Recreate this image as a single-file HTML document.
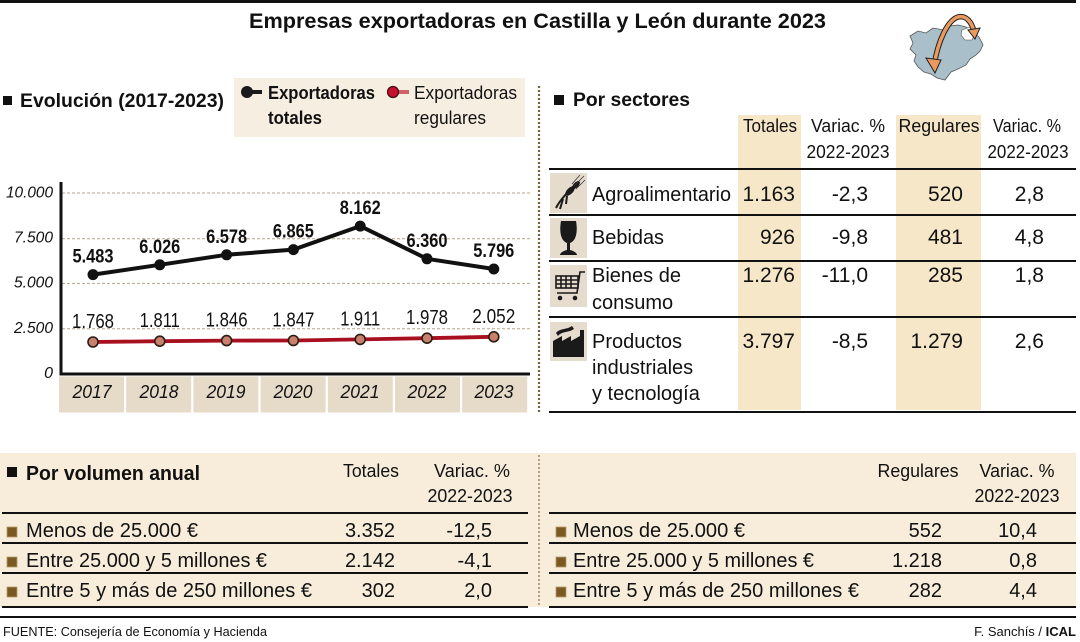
<!DOCTYPE html>
<html><head><meta charset="utf-8"><style>
html,body{margin:0;padding:0;background:#fff;}
svg{display:block;}
text{font-family:"Liberation Sans",Arial,sans-serif;fill:#111;}
.b{font-weight:bold;}
.i{font-style:italic;}
</style></head><body>
<svg width="1080" height="642" viewBox="0 0 1080 642" xmlns="http://www.w3.org/2000/svg">
<rect x="0" y="0" width="1080" height="642" fill="#fff"/>
<!-- top rule -->
<rect x="0" y="0" width="1076" height="3" fill="#111"/>
<text x="249" y="28" class="b" font-size="21" textLength="577" lengthAdjust="spacingAndGlyphs">Empresas exportadoras en Castilla y León durante 2023</text>

<!-- map icon -->
<g>
<path d="M910,36 L918,31 L926,33 L933,28 L944,30 L950,26 L958,25 L966,27 L972,31 L979,37 L983,45 L980,51 L976,55 L970,59 L966,65 L958,69 L951,72 L945,80 L937,78 L931,74 L924,72 L918,67 L914,61 L916,55 L910,49 L913,43 Z" fill="#a9bfca" stroke="#555" stroke-width="0.8"/>
<path d="M962,30 L970,27 L975,33 L972,40 L965,40 L961,35 Z" fill="#fff" stroke="#555" stroke-width="0.6"/>
<path d="M934,66 C938,40 948,20 958,17 C966,15 972,22 974,32" fill="none" stroke="#222" stroke-width="5.5"/>
<path d="M934,66 C938,40 948,20 958,17 C966,15 972,22 974,32" fill="none" stroke="#eb9a5f" stroke-width="3.5"/>
<path d="M926,58 L935,73 L941,60 Z" fill="#eb9a5f" stroke="#222" stroke-width="1"/>
<path d="M968,30 L975,39 L980,28 Z" fill="#eb9a5f" stroke="#222" stroke-width="1"/>
</g>

<!-- Evolución header -->
<rect x="3" y="96" width="9" height="9" fill="#111"/>
<text x="20" y="107" class="b" font-size="19" textLength="204" lengthAdjust="spacingAndGlyphs">Evolución (2017-2023)</text>

<!-- legend -->
<rect x="234" y="78" width="291" height="59" fill="#f7eee2"/>
<line x1="247" y1="92" x2="262" y2="92" stroke="#1a1a1a" stroke-width="4"/>
<circle cx="247" cy="92" r="6" fill="#1a1a1a"/>
<text x="268" y="99" class="b" font-size="18" textLength="107" lengthAdjust="spacingAndGlyphs">Exportadoras</text>
<text x="268" y="124" class="b" font-size="18" textLength="54" lengthAdjust="spacingAndGlyphs">totales</text>
<line x1="393" y1="92" x2="409" y2="92" stroke="#d0606a" stroke-width="4"/>
<circle cx="393" cy="92" r="5.5" fill="#c8102e" stroke="#3a1010" stroke-width="1.2"/>
<text x="414" y="99" font-size="18" textLength="103" lengthAdjust="spacingAndGlyphs">Exportadoras</text>
<text x="414" y="124" font-size="18" textLength="72" lengthAdjust="spacingAndGlyphs">regulares</text>

<!-- grid -->
<g stroke="#b5a58c" stroke-width="1" stroke-dasharray="3,2">
<line x1="62" y1="193" x2="530" y2="193"/>
<line x1="62" y1="238.7" x2="530" y2="238.7"/>
<line x1="62" y1="283.4" x2="530" y2="283.4"/>
<line x1="62" y1="328.7" x2="530" y2="328.7"/>
</g>
<g class="i" font-size="16">
<text x="53" y="197.5" text-anchor="end" class="i" textLength="47" lengthAdjust="spacingAndGlyphs">10.000</text>
<text x="53" y="242.5" text-anchor="end" class="i" textLength="39" lengthAdjust="spacingAndGlyphs">7.500</text>
<text x="53" y="287.5" text-anchor="end" class="i" textLength="39" lengthAdjust="spacingAndGlyphs">5.000</text>
<text x="53" y="333" text-anchor="end" class="i" textLength="39" lengthAdjust="spacingAndGlyphs">2.500</text>
<text x="53" y="378" text-anchor="end" class="i">0</text>
</g>
<!-- axes -->
<line x1="61" y1="182" x2="61" y2="375.5" stroke="#111" stroke-width="3"/>
<line x1="59.5" y1="374" x2="530" y2="374" stroke="#111" stroke-width="3"/>
<!-- year boxes -->
<g fill="#e6dac8">
<rect x="59" y="376.5" width="65" height="36"/>
<rect x="126.2" y="376.5" width="65" height="36"/>
<rect x="193.4" y="376.5" width="65" height="36"/>
<rect x="260.6" y="376.5" width="65" height="36"/>
<rect x="327.8" y="376.5" width="65" height="36"/>
<rect x="395" y="376.5" width="65" height="36"/>
<rect x="462.2" y="376.5" width="65" height="36"/>
</g>
<g font-size="18" text-anchor="middle">
<text x="92" y="398" class="i" textLength="39" lengthAdjust="spacingAndGlyphs">2017</text>
<text x="159" y="398" class="i" textLength="39" lengthAdjust="spacingAndGlyphs">2018</text>
<text x="226" y="398" class="i" textLength="39" lengthAdjust="spacingAndGlyphs">2019</text>
<text x="293" y="398" class="i" textLength="39" lengthAdjust="spacingAndGlyphs">2020</text>
<text x="360" y="398" class="i" textLength="39" lengthAdjust="spacingAndGlyphs">2021</text>
<text x="427" y="398" class="i" textLength="39" lengthAdjust="spacingAndGlyphs">2022</text>
<text x="494" y="398" class="i" textLength="39" lengthAdjust="spacingAndGlyphs">2023</text>
</g>

<!-- series totals -->
<polyline points="93,274.6 159.8,264.8 226.6,254.8 293.4,249.6 360.2,226.1 427,258.8 493.8,269" fill="none" stroke="#111" stroke-width="4" stroke-linejoin="round"/>
<g fill="#111">
<circle cx="93" cy="274.6" r="5.5"/><circle cx="159.8" cy="264.8" r="5.5"/><circle cx="226.6" cy="254.8" r="5.5"/>
<circle cx="293.4" cy="249.6" r="5.5"/><circle cx="360.2" cy="226.1" r="5.5"/><circle cx="427" cy="258.8" r="5.5"/><circle cx="493.8" cy="269" r="5.5"/>
</g>
<g class="b" font-size="19" text-anchor="middle">
<text x="93" y="262.6" class="b" textLength="41" lengthAdjust="spacingAndGlyphs">5.483</text>
<text x="159.8" y="252.8" class="b" textLength="41" lengthAdjust="spacingAndGlyphs">6.026</text>
<text x="226.6" y="242.8" class="b" textLength="41" lengthAdjust="spacingAndGlyphs">6.578</text>
<text x="293.4" y="237.6" class="b" textLength="41" lengthAdjust="spacingAndGlyphs">6.865</text>
<text x="360.2" y="214" class="b" textLength="41" lengthAdjust="spacingAndGlyphs">8.162</text>
<text x="427" y="246.8" class="b" textLength="41" lengthAdjust="spacingAndGlyphs">6.360</text>
<text x="493.8" y="257" class="b" textLength="41" lengthAdjust="spacingAndGlyphs">5.796</text>
</g>
<!-- series regulares -->
<polyline points="93,342 159.8,341.2 226.6,340.6 293.4,340.5 360.2,339.4 427,338.2 493.8,336.8" fill="none" stroke="#a8101f" stroke-width="3.8"/>
<g fill="#c9806c" stroke="#2b1b14" stroke-width="1.6">
<circle cx="93" cy="342" r="5"/><circle cx="159.8" cy="341.2" r="5"/><circle cx="226.6" cy="340.6" r="5"/>
<circle cx="293.4" cy="340.5" r="5"/><circle cx="360.2" cy="339.4" r="5"/><circle cx="427" cy="338.2" r="5"/><circle cx="493.8" cy="336.8" r="5"/>
</g>
<g font-size="20" text-anchor="middle">
<text x="93" y="328" textLength="42" lengthAdjust="spacingAndGlyphs">1.768</text>
<text x="159.8" y="327" textLength="40" lengthAdjust="spacingAndGlyphs">1.811</text>
<text x="226.6" y="326.6" textLength="42" lengthAdjust="spacingAndGlyphs">1.846</text>
<text x="293.4" y="326.5" textLength="42" lengthAdjust="spacingAndGlyphs">1.847</text>
<text x="360.2" y="325.4" textLength="40" lengthAdjust="spacingAndGlyphs">1.911</text>
<text x="427" y="324.2" textLength="42" lengthAdjust="spacingAndGlyphs">1.978</text>
<text x="493.8" y="322.8" textLength="43" lengthAdjust="spacingAndGlyphs">2.052</text>
</g>

<!-- separator -->
<line x1="539" y1="86" x2="539" y2="414" stroke="#7d6040" stroke-width="2.2" stroke-dasharray="2,2"/>

<!-- Por sectores -->
<rect x="554" y="95" width="10" height="10" fill="#111"/>
<text x="573" y="106" class="b" font-size="19" textLength="117" lengthAdjust="spacingAndGlyphs">Por sectores</text>
<rect x="738" y="115" width="63" height="295" fill="#f7e7c9"/>
<rect x="896" y="115" width="85" height="295" fill="#f7e7c9"/>
<g font-size="18">
<text x="743" y="132" textLength="54" lengthAdjust="spacingAndGlyphs">Totales</text>
<text x="848" y="132" text-anchor="middle" textLength="74" lengthAdjust="spacingAndGlyphs">Variac. %</text>
<text x="848" y="158" text-anchor="middle" textLength="83" lengthAdjust="spacingAndGlyphs">2022-2023</text>
<text x="939" y="132" text-anchor="middle" textLength="81" lengthAdjust="spacingAndGlyphs">Regulares</text>
<text x="1027" y="132" text-anchor="middle" textLength="68" lengthAdjust="spacingAndGlyphs">Variac. %</text>
<text x="1028" y="158" text-anchor="middle" textLength="81" lengthAdjust="spacingAndGlyphs">2022-2023</text>
</g>
<g stroke="#111" stroke-width="2">
<line x1="549" y1="169" x2="1076" y2="169"/>
<line x1="549" y1="215" x2="1076" y2="215"/>
<line x1="549" y1="261" x2="1076" y2="261"/>
<line x1="549" y1="317" x2="1076" y2="317"/>
<line x1="549" y1="412" x2="1076" y2="412"/>
</g>
<!-- icons -->
<g fill="#e6dccd">
<rect x="550" y="173" width="37" height="40"/>
<rect x="550" y="218" width="37" height="40"/>
<rect x="550" y="265" width="37" height="42"/>
<rect x="550" y="322" width="37" height="39"/>
</g>
<!-- wheat -->
<g stroke="#1a1a1a" stroke-width="2" fill="none">
<path d="M556,208 C560,200 566,194 576,184"/>
<path d="M560,209 L563,199"/>
<path d="M566,204 L567,196"/>
</g>
<g fill="#1a1a1a">
<ellipse cx="570" cy="191" rx="3" ry="6" transform="rotate(45 570 191)"/>
<ellipse cx="576" cy="185" rx="2.5" ry="5" transform="rotate(45 576 185)"/>
</g>
<g stroke="#333" stroke-width="0.8"><line x1="574" y1="186" x2="584" y2="176"/><line x1="576" y1="189" x2="585" y2="180"/><line x1="572" y1="184" x2="580" y2="175"/></g>
<!-- glass -->
<path d="M561,221 L576,221 C578,232 576,241 570,243 L570,250 C574,251 577,253 577,255 L560,255 C560,253 563,251 567,250 L567,243 C561,241 559,232 561,221 Z" fill="#1a1a1a"/>
<!-- cart -->
<g fill="none" stroke="#1a1a1a" stroke-width="1.6">
<path d="M585,272 L580,272 L577,293 L557,293"/>
<rect x="556" y="276" width="22" height="12"/>
<line x1="556" y1="280" x2="578" y2="280"/><line x1="556" y1="284" x2="578" y2="284"/>
<line x1="561" y1="276" x2="561" y2="288"/><line x1="566" y1="276" x2="566" y2="288"/><line x1="571" y1="276" x2="571" y2="288"/>
</g>
<circle cx="560" cy="298" r="2.3" fill="#1a1a1a"/><circle cx="575" cy="298" r="2.3" fill="#1a1a1a"/>
<!-- factory -->
<path d="M553,357 L553,341 L562,336 L562,341 L571,336 L571,341 L580,336 L580,330 L584,330 L584,357 Z" fill="#1a1a1a"/>
<path d="M556,333 C560,328 566,330 572,326 L574,329 C568,333 562,331 558,336 Z" fill="#1a1a1a"/>

<g font-size="20">
<text x="592" y="201" textLength="139" lengthAdjust="spacingAndGlyphs">Agroalimentario</text>
<text x="592" y="244" textLength="72" lengthAdjust="spacingAndGlyphs">Bebidas</text>
<text x="592" y="282">Bienes de</text>
<text x="592" y="309">consumo</text>
<text x="592" y="348">Productos</text>
<text x="592" y="374">industriales</text>
<text x="592" y="400">y tecnología</text>
</g>
<g font-size="21" text-anchor="end">
<text x="795" y="201">1.163</text><text x="868" y="201">-2,3</text><text x="963" y="201">520</text><text x="1044" y="201">2,8</text>
<text x="795" y="244">926</text><text x="868" y="244">-9,8</text><text x="963" y="244">481</text><text x="1044" y="244">4,8</text>
<text x="795" y="282">1.276</text><text x="868" y="282">-11,0</text><text x="963" y="282">285</text><text x="1044" y="282">1,8</text>
<text x="795" y="348">3.797</text><text x="868" y="348">-8,5</text><text x="963" y="348">1.279</text><text x="1044" y="348">2,6</text>
</g>

<!-- bottom band -->
<rect x="0" y="453" width="1076" height="154" fill="#f8eddb"/>
<line x1="539" y1="455" x2="539" y2="607" stroke="#8a6a44" stroke-width="1.2" stroke-dasharray="2,2"/>
<rect x="7" y="467" width="10" height="10" fill="#111"/>
<text x="26" y="480" class="b" font-size="20" textLength="174" lengthAdjust="spacingAndGlyphs">Por volumen anual</text>
<g font-size="18">
<text x="371" y="477" text-anchor="middle" textLength="56" lengthAdjust="spacingAndGlyphs">Totales</text>
<text x="472" y="477" text-anchor="middle" textLength="76" lengthAdjust="spacingAndGlyphs">Variac. %</text>
<text x="470" y="502" text-anchor="middle" textLength="85" lengthAdjust="spacingAndGlyphs">2022-2023</text>
<text x="918" y="477" text-anchor="middle" textLength="81" lengthAdjust="spacingAndGlyphs">Regulares</text>
<text x="1017" y="477" text-anchor="middle" textLength="75" lengthAdjust="spacingAndGlyphs">Variac. %</text>
<text x="1017" y="502" text-anchor="middle" textLength="85" lengthAdjust="spacingAndGlyphs">2022-2023</text>
</g>
<g stroke="#111" stroke-width="2">
<line x1="2" y1="513" x2="528" y2="513"/><line x1="2" y1="543" x2="528" y2="543"/><line x1="2" y1="573" x2="528" y2="573"/><line x1="2" y1="607" x2="528" y2="607"/>
<line x1="549" y1="513" x2="1076" y2="513"/><line x1="549" y1="543" x2="1076" y2="543"/><line x1="549" y1="573" x2="1076" y2="573"/><line x1="549" y1="607" x2="1076" y2="607"/>
<line x1="0" y1="617" x2="1076" y2="617"/>
</g>
<g fill="#7a5a22" stroke="#b89a6a" stroke-width="0.8">
<rect x="7" y="527" width="10" height="10"/><rect x="7" y="557" width="10" height="10"/><rect x="7" y="587" width="10" height="10"/>
<rect x="556" y="527" width="10" height="10"/><rect x="556" y="557" width="10" height="10"/><rect x="556" y="587" width="10" height="10"/>
</g>
<g font-size="20">
<text x="26" y="537" textLength="172" lengthAdjust="spacingAndGlyphs">Menos de 25.000 €</text>
<text x="26" y="567" textLength="241" lengthAdjust="spacingAndGlyphs">Entre 25.000 y 5 millones €</text>
<text x="26" y="597" textLength="286" lengthAdjust="spacingAndGlyphs">Entre 5 y más de 250 millones €</text>
<text x="573" y="537" textLength="172" lengthAdjust="spacingAndGlyphs">Menos de 25.000 €</text>
<text x="573" y="567" textLength="241" lengthAdjust="spacingAndGlyphs">Entre 25.000 y 5 millones €</text>
<text x="573" y="597" textLength="286" lengthAdjust="spacingAndGlyphs">Entre 5 y más de 250 millones €</text>
</g>
<g font-size="20" text-anchor="end">
<text x="395" y="537">3.352</text><text x="492" y="537">-12,5</text>
<text x="395" y="567">2.142</text><text x="492" y="567">-4,1</text>
<text x="395" y="597">302</text><text x="492" y="597">2,0</text>
<text x="942" y="537">552</text><text x="1037" y="537">10,4</text>
<text x="942" y="567">1.218</text><text x="1037" y="567">0,8</text>
<text x="942" y="597">282</text><text x="1037" y="597">4,4</text>
</g>

<!-- footer -->
<text x="3" y="636" font-size="13" textLength="264" lengthAdjust="spacingAndGlyphs">FUENTE: Consejería de Economía y Hacienda</text>
<text x="1076" y="636" font-size="13" text-anchor="end">F. Sanchís / <tspan font-weight="bold">ICAL</tspan></text>
</svg>
</body></html>
